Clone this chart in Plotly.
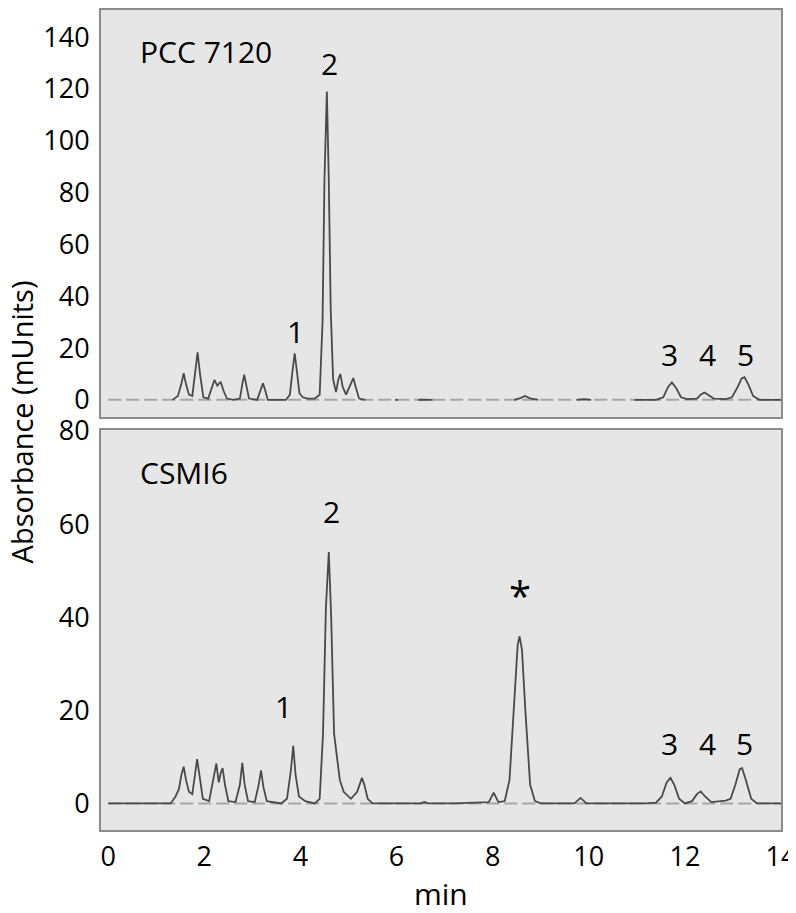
import plotly.graph_objects as go

# ---- data (time in min, absorbance in mUnits) ----
pcc_time = [1.34, 1.45, 1.52, 1.57, 1.62, 1.68, 1.75, 1.81, 1.86, 1.91, 1.98, 2.08, 2.16, 2.21, 2.27,
            2.34, 2.40, 2.47, 2.60, 2.74, 2.79, 2.83, 2.87, 2.93, 3.10, 3.17, 3.22, 3.27, 3.32, 3.70,
            3.78, 3.84, 3.88, 3.92, 3.98, 4.05, 4.15, 4.30, 4.40, 4.46, 4.50, 4.55, 4.59, 4.63, 4.68,
            4.74, 4.79, 4.83, 4.88, 4.95, 5.05, 5.10, 5.15, 5.22, 5.35, None,
            5.97, 6.03, None, 6.45, 6.55, 6.75, None,
            8.45, 8.58, 8.67, 8.78, 8.95, None, 9.75, 9.90, 10.05, None,
            10.95, 11.40, 11.55, 11.65, 11.73, 11.82, 11.92, 12.05, 12.25, 12.34, 12.41, 12.50, 12.60,
            12.85, 12.98, 13.10, 13.18, 13.24, 13.32, 13.42, 13.55, 14.0]
pcc_abs = [0, 1.5, 6, 10.3, 6, 2, 1.5, 10, 18.3, 10, 1, 0.5, 5, 7.7, 5.5,
           7, 3.5, 0.5, 0, 0.5, 6, 9.7, 6, 0.5, 0, 3.5, 6.4, 3.5, 0, 0,
           2, 12, 18, 12, 2.5, 1, 0.5, 0.5, 2, 30, 85, 119, 85, 35, 8,
           3, 8, 10, 5, 2, 6, 8.4, 5, 0.5, 0, None,
           0, 0, None, 0, 0.1, 0, None,
           0, 0.7, 1.5, 0.6, 0, None, 0, 0.3, 0, None,
           0, 0, 1, 5, 6.7, 4.5, 1, 0.3, 0.5, 2.2, 2.8, 1.8, 0.5,
           0.3, 1, 5, 8.3, 8.8, 6, 1.5, 0, 0]

csm_time = [0.0, 1.30, 1.40, 1.47, 1.52, 1.57, 1.62, 1.68, 1.75, 1.81, 1.85, 1.90, 1.97, 2.10, 2.19,
            2.25, 2.30, 2.34, 2.38, 2.43, 2.50, 2.65, 2.74, 2.79, 2.84, 2.91, 3.05, 3.13, 3.18, 3.23,
            3.30, 3.60, 3.72, 3.80, 3.85, 3.90, 3.97, 4.10, 4.30, 4.40, 4.47, 4.53, 4.59, 4.64, 4.70,
            4.76, 4.82, 4.90, 5.05, 5.18, 5.24, 5.28, 5.33, 5.40, 5.50, 6.50, 6.58, 6.66, 7.20, 7.92,
            8.02, 8.12, 8.25, 8.35, 8.45, 8.52, 8.56, 8.61, 8.68, 8.78, 8.88, 9.00, 9.70, 9.83, 9.95,
            11.20, 11.40, 11.52, 11.62, 11.70, 11.78, 11.88, 12.00, 12.15, 12.25, 12.33, 12.42, 12.55,
            12.75, 12.85, 12.95, 13.05, 13.14, 13.19, 13.27, 13.38, 13.50, 14.0]
csm_abs = [0, 0, 1.5, 3, 6, 7.9, 5, 2.5, 2, 7, 9.5, 6, 1, 0.5, 5,
           8.6, 4.5, 6.5, 7.6, 4, 0.5, 0.3, 4, 8.7, 4, 0.5, 0.3, 4, 7.1, 3.5,
           0.5, 0, 1, 7, 12.4, 6, 1.5, 0.5, 0, 1, 15, 42, 54, 40, 15,
           10, 5, 2.5, 1, 2.5, 4.5, 5.5, 4, 1, 0, 0, 0.3, 0, 0, 0.3,
           2.3, 0.3, 0.5, 5, 22, 34, 35.9, 33, 20, 4, 0.5, 0, 0, 1.2, 0,
           0, 0.2, 1.5, 4.5, 5.5, 4, 1, 0, 0.5, 2, 2.6, 1.5, 0.3,
           0.5, 0.6, 1, 4, 7.3, 7.6, 5, 1, 0, 0]

baseline_time = [0.0, 14.0]
baseline_abs = [0, 0]

x_ticks = [0, 2, 4, 6, 8, 10, 12, 14]
top_y_ticks = [0, 20, 40, 60, 80, 100, 120, 140]
bot_y_ticks = [0, 20, 40, 60, 80]

# labels: (text, time, absorbance)
top_labels = [("PCC 7120", 2.03, 134.3), ("2", 4.60, 129.8), ("1", 3.90, 26.4),
              ("3", 11.69, 17.6), ("4", 12.48, 17.6), ("5", 13.27, 17.6)]
bot_labels = [("CSMI6", 1.58, 71.1), ("2", 4.64, 62.6), ("1", 3.65, 20.9),
              ("3", 11.69, 12.9), ("4", 12.48, 12.9), ("5", 13.25, 12.9)]
star_label = ("*", 8.57, 44.6)

FONT = "Open Sans"
TRACE_COLOR = "#4a4a4a"
BASE_COLOR = "#a6a6a6"
BG = "#e6e6e6"
BORDER = "#8c8c8c"

fig = go.Figure()
for xa, ya, t, a in [("x", "y", pcc_time, pcc_abs), ("x2", "y2", csm_time, csm_abs)]:
    fig.add_trace(go.Scatter(x=baseline_time, y=baseline_abs, xaxis=xa, yaxis=ya, mode="lines",
                             line=dict(color=BASE_COLOR, width=2, dash="13px,5px"),
                             hoverinfo="skip", showlegend=False))
    fig.add_trace(go.Scatter(x=t, y=a, xaxis=xa, yaxis=ya, mode="lines",
                             line=dict(color=TRACE_COLOR, width=1.8),
                             connectgaps=False, showlegend=False))

LBL = 30
annotations = []
for txt, tx, ty in top_labels:
    annotations.append(dict(text=txt, x=tx, y=ty, xref="x", yref="y", showarrow=False,
                            font=dict(family=FONT, size=LBL, color="#000")))
for txt, tx, ty in bot_labels:
    annotations.append(dict(text=txt, x=tx, y=ty, xref="x2", yref="y2", showarrow=False,
                            font=dict(family=FONT, size=LBL, color="#000")))
annotations.append(dict(text=star_label[0], x=star_label[1], y=star_label[2], xref="x2", yref="y2",
                        showarrow=False, font=dict(family=FONT, size=40, color="#000")))
annotations.append(dict(text="Absorbance (mUnits)", x=-0.1155, y=0.4976, xref="paper", yref="paper",
                        textangle=-90, showarrow=False, xanchor="center", yanchor="middle",
                        font=dict(family=FONT, size=29, color="#000")))
annotations.append(dict(text="min", x=0.5, y=-0.077, xref="paper", yref="paper",
                        showarrow=False, xanchor="center", yanchor="middle",
                        font=dict(family=FONT, size=30, color="#000")))

axis_common = dict(showline=True, mirror=True, linecolor=BORDER, linewidth=2, showgrid=False,
                   zeroline=False, ticks="", automargin=False,
                   tickfont=dict(family=FONT, size=27, color="#000"))

# page body adds an 8 px offset; margins are set so the plot lands at the reference position
fig.update_layout(
    width=796, height=913,
    margin=dict(l=93, r=23, t=2, b=91),
    paper_bgcolor="white", plot_bgcolor=BG,
    annotations=annotations,
    xaxis=dict(axis_common, domain=[0, 1], range=[-0.15, 14.0], anchor="y",
               showticklabels=False, tickvals=x_ticks),
    yaxis=dict(axis_common, domain=[0.5037, 1.0], range=[-6.6, 150.5], anchor="x",
               tickvals=top_y_ticks, ticklabelstandoff=4),
    xaxis2=dict(axis_common, domain=[0, 1], range=[-0.15, 14.0], anchor="y2",
                tickvals=x_ticks, ticklabelstandoff=2),
    yaxis2=dict(axis_common, domain=[0.0, 0.4878], range=[-5.7, 80.2], anchor="x2",
                tickvals=bot_y_ticks, ticklabelstandoff=4),
)

fig.write_html("out.html")
